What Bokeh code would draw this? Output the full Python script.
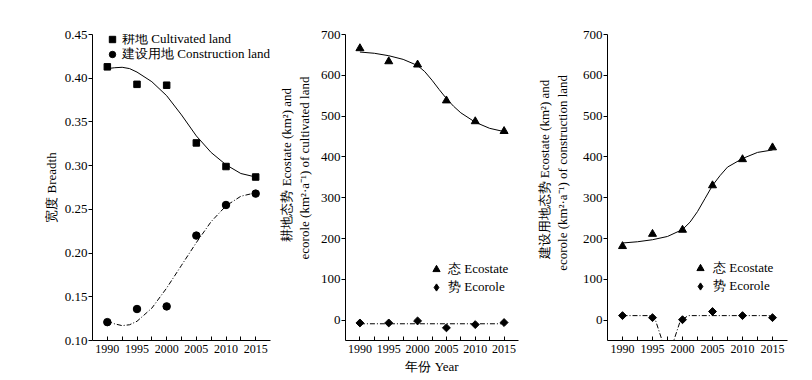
import math
from bokeh.plotting import figure
from bokeh.layouts import row
from bokeh.models import FixedTicker, PrintfTickFormatter, Legend, LegendItem, Range1d
from bokeh.embed import file_html
from bokeh.resources import INLINE

# ---------------- data ----------------
years = [1990, 1995, 2000, 2005, 2010, 2015]
year_ticks = [1990, 1995, 2000, 2005, 2010, 2015]
year_minor_ticks = [1992.5, 1997.5, 2002.5, 2007.5, 2012.5]

breadth_ticks = [0.10, 0.15, 0.20, 0.25, 0.30, 0.35, 0.40, 0.45]
value_ticks = [0, 100, 200, 300, 400, 500, 600, 700]

# panel 1: breadth
breadth_cultivated = [0.413, 0.393, 0.392, 0.326, 0.299, 0.287]
breadth_construction = [0.121, 0.136, 0.139, 0.220, 0.255, 0.268]
fit_years_breadth = [1990, 1991.25, 1992.5, 1993.75, 1995, 1997.5, 2000,
                     2002.5, 2005, 2007.5, 2010, 2012.5, 2015]
fit_breadth_cultivated = [0.411, 0.412, 0.4125, 0.411, 0.407, 0.396, 0.380,
                          0.358, 0.334, 0.315, 0.301, 0.291, 0.287]
fit_breadth_construction = [0.122, 0.119, 0.117, 0.118, 0.122, 0.137, 0.160,
                            0.186, 0.212, 0.236, 0.254, 0.265, 0.269]

# panel 2: cultivated land ecostate / ecorole
cultivated_ecostate = [666, 634, 626, 538, 487, 463]
cultivated_ecorole = [-7, -7, -2, -19, -11, -6]
fit_years_state = [1990, 1992.5, 1995, 1997.5, 2000, 2001.25, 2002.5,
                   2003.75, 2005, 2006.25, 2007.5, 2010, 2012.5, 2015]
fit_cultivated_ecostate = [657, 654, 648, 639, 624, 609, 588,
                           565, 543, 524, 508, 485, 470, 462]
fit_years_cultivated_role = [1990, 2015]
fit_cultivated_ecorole = [-9, -9]

# panel 3: construction land ecostate / ecorole
construction_ecostate = [181, 211, 221, 330, 394, 423]
construction_ecorole = [11, 6, 1, 21, 11, 6]
fit_construction_ecostate = [189, 192, 197, 205, 222, 240, 266,
                             298, 330, 354, 375, 396, 411, 417]
fit_years_construction_role = [1990, 1995.25, 1996.6, 1997.6, 1998.55, 1999.65, 2001.0, 2015]
fit_construction_ecorole = [11, 11, -50, -95, -50, -1, 11, 11]

FONT = "Liberation Serif"
DASHDOT = "5 2 1 2"
NB = "\u00a0"


def make_fig(border_left, frame_w, border_right, y_range):
    p = figure(frame_width=frame_w, frame_height=306,
               min_border_left=border_left, min_border_right=border_right,
               min_border_top=34, min_border_bottom=34,
               x_range=Range1d(1987.5, 2017.5), y_range=y_range,
               output_backend="svg", toolbar_location=None)
    p.outline_line_color = None
    p.xgrid.visible = False
    p.ygrid.visible = False
    p.background_fill_color = "white"
    p.border_fill_color = "white"

    xa = p.xaxis[0]
    xa.ticker = FixedTicker(ticks=year_ticks, minor_ticks=year_minor_ticks)
    xa.axis_line_color = "black"
    xa.major_tick_line_color = "black"
    xa.minor_tick_line_color = "black"
    xa.major_tick_in = 4
    xa.major_tick_out = 0
    xa.minor_tick_in = 4
    xa.minor_tick_out = 0
    xa.major_label_text_font = FONT
    xa.major_label_text_font_size = "12px"
    xa.major_label_text_color = "black"
    xa.major_label_standoff = 4
    xa.axis_label_text_font = FONT
    xa.axis_label_text_font_size = "13px"
    xa.axis_label_text_font_style = "normal"
    xa.axis_label_text_color = "black"
    xa.axis_label_standoff = 3

    ya = p.yaxis[0]
    ya.axis_line_color = "black"
    ya.major_tick_line_color = "black"
    ya.major_tick_in = 0
    ya.major_tick_out = 4
    ya.minor_tick_in = 0
    ya.minor_tick_out = 0
    ya.major_label_text_font = FONT
    ya.major_label_text_font_size = "13px"
    ya.major_label_text_color = "black"
    ya.major_label_standoff = 1
    ya.axis_label_text_font = FONT
    ya.axis_label_text_font_size = "13px"
    ya.axis_label_text_font_style = "normal"
    ya.axis_label_text_color = "black"
    ya.axis_label_standoff = 8
    return p


def make_legend(items, loc, row_h, standoff):
    return Legend(items=items, location=loc, orientation="vertical",
                  background_fill_alpha=0, border_line_alpha=0,
                  inactive_fill_alpha=0,
                  padding=0, margin=0, spacing=0,
                  glyph_width=row_h, glyph_height=row_h, label_height=row_h,
                  label_standoff=standoff,
                  label_text_font=FONT, label_text_font_size="13px",
                  label_text_color="black")


def ecorole_marks(p, values):
    # plotted diamonds (rotated squares) and a diamond glyph used for the legend key
    p.scatter(years, values, marker="square", angle=math.pi / 4, size=5.6,
              fill_color="black", line_color="black")
    key = p.scatter(years, values, marker="diamond", size=9,
                    fill_color="black", line_color="black")
    key.visible = False
    return key


# ---------------- panel 1 ----------------
p1 = make_fig(92, 178, 5, Range1d(0.10, 0.45))
p1.yaxis[0].ticker = FixedTicker(ticks=breadth_ticks)
p1.yaxis[0].formatter = PrintfTickFormatter(format="%.2f")
p1.yaxis[0].axis_label = "宽度 Breadth"
p1.yaxis[0].axis_label_standoff = 3
p1.line(fit_years_breadth, fit_breadth_cultivated, line_color="black", line_width=1)
p1.line(fit_years_breadth, fit_breadth_construction, line_color="black", line_width=1,
        line_dash=DASHDOT)
r_sq = p1.scatter(years, breadth_cultivated, marker="square", size=6.5,
                  fill_color="black", line_color="black")
r_ci = p1.scatter(years, breadth_construction, marker="circle", size=7.5,
                  fill_color="black", line_color="black")
p1.add_layout(make_legend([LegendItem(label="耕地 Cultivated land", renderers=[r_sq])],
                          (12, 292), 16, 2))
p1.add_layout(make_legend([LegendItem(label="建设用地 Construction land", renderers=[r_ci])],
                          (12, 277), 16, 2))

# ---------------- panel 2 ----------------
p2 = make_fig(67, 173, 15, Range1d(-50, 700))
p2.yaxis[0].ticker = FixedTicker(ticks=value_ticks)
p2.yaxis[0].axis_label = (NB * 14 + "耕地态势 Ecostate (km²) and\n"
                          + NB * 12 + "ecorole (km²·a⁻¹) of cultivated land")
p2.yaxis[0].axis_label_standoff = 6
p2.xaxis[0].axis_label = "年份 Year"
p2.line(fit_years_state, fit_cultivated_ecostate, line_color="black", line_width=1)
p2.line(fit_years_cultivated_role, fit_cultivated_ecorole, line_color="black", line_width=1,
        line_dash=DASHDOT)
r_tr2 = p2.scatter(years, cultivated_ecostate, marker="triangle", size=8,
                   fill_color="black", line_color="black")
r_di2 = ecorole_marks(p2, cultivated_ecorole)
p2.add_layout(make_legend([LegendItem(label="态 Ecostate", renderers=[r_tr2]),
                           LegendItem(label="势 Ecorole", renderers=[r_di2])],
                          (82, 44), 18, 3))

# ---------------- panel 3 ----------------
p3 = make_fig(66, 180, 16, Range1d(-50, 700))
p3.yaxis[0].ticker = FixedTicker(ticks=value_ticks)
p3.yaxis[0].axis_label = (NB * 11 + "建设用地态势 Ecostate (km²) and\n"
                          + NB * 9 + "ecorole (km²·a⁻¹) of construction land")
p3.yaxis[0].axis_label_standoff = 10
p3.line(fit_years_state, fit_construction_ecostate, line_color="black", line_width=1)
p3.line(fit_years_construction_role, fit_construction_ecorole, line_color="black", line_width=1,
        line_dash=DASHDOT)
r_tr3 = p3.scatter(years, construction_ecostate, marker="triangle", size=8,
                   fill_color="black", line_color="black")
r_di3 = ecorole_marks(p3, construction_ecorole)
p3.add_layout(make_legend([LegendItem(label="态 Ecostate", renderers=[r_tr3]),
                           LegendItem(label="势 Ecorole", renderers=[r_di3])],
                          (84, 45), 18, 4))

layout = row(p1, p2, p3)
open("out.html", "w").write(file_html(layout, INLINE))
